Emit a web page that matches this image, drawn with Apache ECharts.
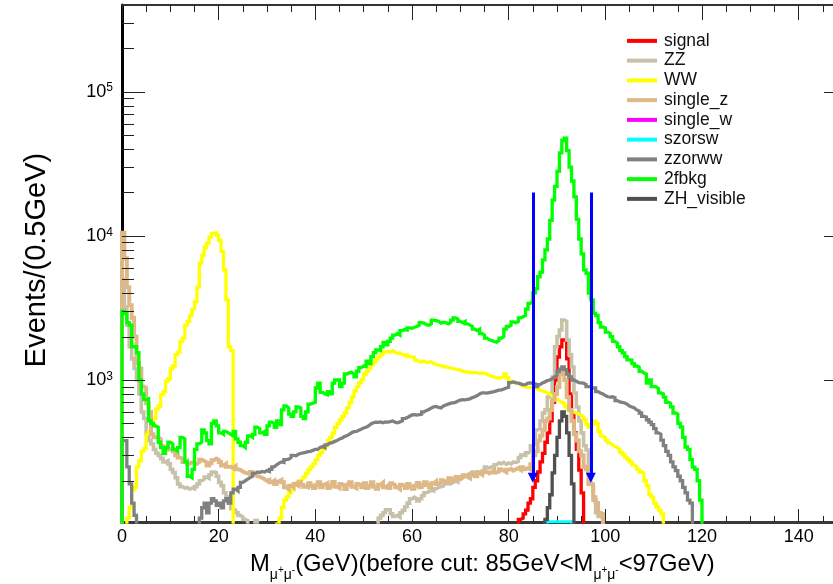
<!DOCTYPE html>
<html>
<head>
<meta charset="utf-8">
<script src="https://cdn.jsdelivr.net/npm/echarts@6/dist/echarts.min.js"></script>
<style>
  html, body { margin: 0; padding: 0; background: #fff; }
  #chart { width: 833px; height: 584px; }
</style>
</head>
<body>
<div id="chart"></div>
<script>
// Dimuon invariant mass, events per 0.5 GeV bin, log scale.
const binWidth = 0.5;
const xRange = [0, 150];
const yRange = [103.5, 399000];
const floorValue = 1; // empty bins sit below the axis minimum
const cutEdges = [85, 97];
const cutArrowSpan = [20000, 210];

const xTickStep = 20;
const yMajorTicks = [1000, 10000, 100000];
const yMinorTicks = [200, 300, 400, 500, 600, 700, 800, 900,
  2000, 3000, 4000, 5000, 6000, 7000, 8000, 9000,
  20000, 30000, 40000, 50000, 60000, 70000, 80000, 90000,
  200000, 300000];

const legendNames = ['signal', 'ZZ', 'WW', 'single_z', 'single_w', 'szorsw', 'zzorww', '2fbkg', 'ZH_visible'];

// signal
const signalFirstBin = 164;
const signalCounts = [108, 110, 118, 125, 140, 150, 180, 200, 230, 270, 310, 370, 430, 520, 700, 1000,
  1444, 1700, 1900, 1850, 1400, 800, 590, 430, 330, 237, 165];

// ZZ
const zzLowFirstBin = 0;
const zzLowCounts = [5000, 3200, 2400, 1700, 1400, 1200, 1000, 800, 600, 540,
  420, 380, 360, 330, 310, 300, 285, 270, 275, 262,
  240, 228, 210, 190, 182, 178, 180, 175, 178, 176,
  182, 190, 200, 205, 212, 208, 220, 230, 228, 215,
  195, 185, 165, 155, 140, 128, 125, 120, 115, 112,
  108, 106, 0, 0, 0, 106];
const zzHighFirstBin = 106;
const zzHighCounts = [110, 115, 120, 126, 126, 118, 113, 115, 112, 120,
  125, 132, 140, 150, 154, 150, 145, 150, 158, 165,
  168, 172, 170, 176, 180, 182, 184, 190, 193, 190,
  195, 200, 196, 205, 213, 215, 220, 225, 230, 228,
  232, 228, 235, 240, 249, 245, 250, 248, 258, 266,
  262, 268, 260, 266, 262, 270, 268, 272, 290, 302,
  300, 312, 320, 350, 360, 450, 460, 520, 590, 620,
  762, 800, 1049, 1700, 2000, 2220, 2600, 2550, 1894, 1500,
  1230, 813, 650, 520, 430, 350, 327, 227, 190, 154,
  120, 113, 110];

// WW
const wwLowFirstBin = 2;
const wwLowCounts = [110, 130, 173, 180, 250, 275, 320, 335,
  420, 440, 510, 540, 630, 660, 790, 830, 980, 1020,
  1200, 1250, 1500, 1560, 1850, 1950, 2400, 2550, 2800, 3100,
  3500, 4400, 6500, 7300, 8300, 8900, 9800, 10400, 10500, 10100,
  9300, 7800, 5800, 3600, 1700, 1600];
const wwHighFirstBin = 64;
const wwHighCounts = [100, 110, 130, 147, 155, 165, 172, 185, 193, 200,
  205, 213, 225, 240, 250, 262, 279, 300, 315, 330,
  350, 380, 400, 430, 470, 500, 530, 560, 590, 640,
  700, 760, 840, 900, 955, 1010, 1100, 1150, 1200, 1280,
  1330, 1400, 1450, 1500, 1560, 1580, 1550, 1600, 1560, 1520,
  1540, 1500, 1480, 1500, 1450, 1440, 1440, 1380, 1340, 1330,
  1350, 1320, 1330, 1340, 1300, 1280, 1270, 1260, 1230, 1240,
  1220, 1210, 1200, 1190, 1180, 1170, 1150, 1140, 1140, 1130,
  1120, 1130, 1120, 1110, 1120, 1110, 1100, 1080, 1060, 1050,
  1040, 1030, 1040, 1050, 1100, 1040, 980, 970, 960, 950,
  930, 910, 895, 890, 890, 880, 870, 860, 850, 840,
  830, 815, 800, 780, 760, 740, 720, 700, 690, 660,
  630, 610, 600, 590, 580, 570, 555, 530, 490, 470,
  490, 520, 500, 440, 410, 400, 380, 366, 355, 345,
  340, 330, 315, 305, 290, 280, 270, 258, 250, 240,
  230, 225, 200, 185, 160, 154, 140, 132, 125, 118];

// single_z
const singleZFirstBin = 0;
const singleZCounts = [10500, 7000, 4400, 3300, 2700, 2000, 1300, 1200, 900, 880,
  690, 600, 420, 400, 400, 390, 350, 340, 345, 330,
  335, 320, 300, 290, 285, 270, 275, 262, 268, 265,
  262, 270, 280, 275, 268, 255, 265, 278, 285, 280,
  270, 255, 262, 250, 250, 245, 252, 240, 238, 232,
  228, 225, 222, 230, 220, 215, 213, 210, 205, 200,
  203, 195, 200, 190, 198, 202, 195, 180, 175, 185,
  180, 190, 185, 195, 188, 182, 180, 192, 185, 178,
  186, 195, 180, 188, 192, 178, 185, 196, 182, 178,
  190, 185, 175, 188, 195, 182, 178, 190, 186, 180,
  192, 178, 185, 195, 182, 176, 188, 194, 180, 185,
  178, 192, 186, 180, 175, 188, 184, 178, 190, 182,
  176, 185, 193, 180, 186, 195, 188, 180, 192, 198,
  190, 195, 202, 196, 200, 208, 198, 205, 212, 205,
  210, 218, 212, 208, 218, 222, 215, 225, 220, 228,
  232, 225, 230, 236, 228, 232, 240, 235, 230, 238,
  242, 235, 240, 245, 238, 248,
  240, 245, 240, 260, 300, 320, 380, 410, 450, 520,
  540, 620, 727, 800, 895, 1100, 1150, 1000, 760, 620,
  520, 420, 380, 320, 300, 250, 240, 190, 185, 147,
  140, 120, 118];

// single_w has no entries in this range
const singleWFirstBin = 0;
const singleWCounts = [];

// szorsw
const szorswFirstBin = 176;
const szorswCounts = [104, 104, 104, 104, 104, 104, 104, 104, 104, 104];

// zzorww
const zzorwwLowFirstBin = 0;
const zzorwwLowCounts = [380, 380, 250, 190, 140, 115];
const zzorwwHighFirstBin = 32;
const zzorwwHighCounts = [110, 130, 140, 120, 140, 150, 145, 135,
  140, 130, 145, 150, 140, 165, 175, 170, 180, 195,
  200, 205, 210, 215, 225, 230, 228, 232, 230, 235,
  232, 240, 250, 258, 265, 270, 268, 280, 282, 290,
  300, 298, 305, 310, 312, 315, 318, 320, 325, 330,
  330, 340, 345, 340, 355, 365, 368, 375, 380, 390,
  395, 405, 410, 420, 430, 438, 440, 448, 455, 465,
  470, 480, 495, 505, 510, 508, 512, 505, 512, 510,
  515, 520, 510, 505, 512, 520, 540, 548, 560, 572,
  575, 570, 575, 580, 600, 615, 625, 640, 650, 655,
  645, 640, 660, 670, 680, 690, 695, 700, 715, 725,
  730, 728, 735, 740, 755, 765, 780, 800, 815, 815,
  810, 818, 825, 830, 840, 850, 855, 865, 880, 890,
  960, 970, 955, 950, 940, 925, 930, 950, 955, 950,
  940, 900, 930, 955, 970, 990, 1000, 1020, 1050, 1080,
  1150, 1190, 1230, 1180, 1100, 1050, 1000, 980, 960, 955,
  950, 930, 900, 895, 880, 880, 830, 813, 800, 780,
  765, 760, 765, 755, 720, 705, 700, 693, 680, 660,
  650, 640, 620, 610, 590, 560, 554, 530, 510, 490,
  460, 430, 420, 383, 350, 320, 300, 270, 250, 235,
  215, 200, 180, 165, 147, 140];

// 2fbkg
const twoFermionFirstBin = 0;
const twoFermionCounts = [3000, 2900, 2500, 2400, 1700, 1700, 1550, 1000, 800, 730,
  740, 520, 500, 480, 470, 370, 340, 310, 340, 370,
  360, 330, 320, 340, 400, 390, 270, 215, 210, 240,
  330, 360, 370, 450, 430, 380, 360, 500, 520, 480,
  430, 420, 440, 430, 420, 410, 440, 390, 370, 350,
  340, 370, 410, 400, 420, 470, 460, 430, 440, 420,
  480, 510, 500, 470, 520, 490, 620, 660, 640, 580,
  560, 600, 650, 640, 560, 540, 600, 680, 690, 700,
  880, 950, 820, 800, 790, 830, 800, 950, 1000, 1000,
  900, 950, 1100, 1120, 1130, 1100, 1050, 1150, 1220, 1250,
  1240, 1350, 1300, 1450, 1550, 1620, 1600, 1700, 1820, 1750,
  1850, 1950, 2050, 2100, 2050, 2200, 2250, 2220, 2300, 2280,
  2320, 2350, 2400, 2500, 2480, 2420, 2400, 2450, 2600, 2580,
  2550, 2480, 2520, 2500, 2450, 2500, 2600, 2700, 2650, 2550,
  2500, 2550, 2450, 2400, 2350, 2250, 2200, 2250, 2100, 2050,
  1950, 1900, 1880, 1850, 1830, 1880, 1950, 2000, 2250, 2350,
  2400, 2530, 2500, 2550, 2700, 2750, 2800, 3100, 3400, 3500,
  4000, 4300, 5200, 5600, 6800, 8000, 9500, 12800, 17700, 22000,
  28000, 37600, 46000, 47500, 39000, 30000, 24000, 18600, 13000, 9500,
  7500, 5800, 5500, 4000, 3600, 2900, 2800, 2500, 2330, 2300,
  2150, 2100, 2000, 1850, 1800, 1700, 1600, 1540, 1450, 1380,
  1376, 1300, 1250, 1230, 1150, 1118, 1100, 950, 1000, 900,
  895, 870, 813, 800, 760, 700, 690, 650, 590, 580,
  500, 472, 400, 343, 330, 280, 249, 240, 200, 147];

// ZH_visible
const zhFirstBin = 175;
const zhCounts = [108, 130, 160, 227, 300, 400, 520, 600, 560, 430, 300, 190];

// Turn binned counts into the outline of a step histogram.
function histogramOutline(segments) {
  const pts = [];
  segments.forEach(function (seg) {
    const first = seg[0], counts = seg[1];
    if (!counts.length) return;
    pts.push([first * binWidth, floorValue]);
    counts.forEach(function (c, i) {
      const lo = (first + i) * binWidth;
      const v = c > 0 ? c : floorValue;
      pts.push([lo, v], [lo + binWidth, v]);
    });
    pts.push([(first + counts.length) * binWidth, floorValue]);
  });
  return pts;
}

const FONT = "'Liberation Sans', Arial, Helvetica, sans-serif";

function histSeries(name, color, width, segments) {
  return {
    name: name,
    type: 'line',
    data: histogramOutline(segments),
    color: color,
    symbol: 'none',
    showSymbol: false,
    clip: true,
    silent: true,
    lineStyle: { color: color, width: width, join: 'miter' },
    emphasis: { disabled: true }
  };
}

function yTickSeries(values, len) {
  return {
    type: 'custom',
    silent: true,
    clip: false,
    z: 5,
    encode: { x: 0, y: 1 },
    data: values.map(function (v) { return [xRange[0], v]; }),
    renderItem: function (params, api) {
      const v = api.value(1);
      const l = api.coord([xRange[0], v]);
      const r = api.coord([xRange[1], v]);
      const y = Math.round(l[1]) + 0.5;
      const style = { stroke: '#222', lineWidth: 1 };
      return {
        type: 'group',
        children: [
          { type: 'line', shape: { x1: l[0], y1: y, x2: l[0] + len, y2: y }, style: style },
          { type: 'line', shape: { x1: r[0] - len, y1: y, x2: r[0], y2: y }, style: style }
        ]
      };
    }
  };
}

const chart = echarts.init(document.getElementById('chart'), null, { renderer: 'canvas' });

const xAxisCommon = {
  type: 'value',
  min: xRange[0],
  max: xRange[1],
  interval: xTickStep,
  splitLine: { show: false }
};

chart.setOption({
  animation: false,
  backgroundColor: '#ffffff',
  grid: { left: 122, top: 5, width: 725, height: 517, containLabel: false, outerBoundsMode: 'none' },
  legend: {
    orient: 'vertical',
    left: 627,
    top: 31,
    padding: 0,
    itemWidth: 30,
    itemHeight: 4,
    itemGap: 0,
    icon: 'rect',
    selectedMode: false,
    textStyle: { fontFamily: FONT, fontSize: 17.5, color: '#111', lineHeight: 19.75, padding: [0, 0, 0, 2] },
    data: legendNames
  },
  xAxis: [
    Object.assign({}, xAxisCommon, {
      position: 'bottom',
      z: 1,
      axisLine: { show: true, onZero: false, lineStyle: { color: '#3a3a3a', width: 3 } },
      axisTick: { show: true, inside: true, length: 13, lineStyle: { color: '#222', width: 1 } },
      minorTick: { show: true, splitNumber: 4, length: 6, lineStyle: { color: '#222', width: 1 } },
      axisLabel: {
        show: true, margin: 6, fontFamily: FONT, fontSize: 18, color: '#000',
        formatter: function (v) { return v <= 140 ? String(v) : ''; }
      }
    }),
    Object.assign({}, xAxisCommon, {
      position: 'top',
      axisLine: { show: true, onZero: false, lineStyle: { color: '#333', width: 2 } },
      axisTick: { show: true, inside: true, length: 15, lineStyle: { color: '#222', width: 1 } },
      minorTick: { show: true, splitNumber: 4, length: 7, lineStyle: { color: '#222', width: 1 } },
      axisLabel: { show: false }
    })
  ],
  yAxis: {
    type: 'log',
    logBase: 10,
    min: yRange[0],
    max: yRange[1],
    axisLine: { show: true, onZero: false, lineStyle: { color: '#000', width: 3 } },
    axisTick: { show: false },
    minorTick: { show: false },
    splitLine: { show: false },
    axisLabel: {
      margin: 9,
      formatter: function (v) {
        const e = Math.log10(v);
        const n = Math.round(e);
        if (Math.abs(e - n) > 1e-6) return '';
        return '{b|10}{e|' + n + '}';
      },
      rich: {
        b: { fontFamily: FONT, fontSize: 18, color: '#000' },
        e: { fontFamily: FONT, fontSize: 12, color: '#000', padding: [0, 0, 7, 0] }
      }
    }
  },
  graphic: [
    {
      type: 'text',
      x: 37,
      y: 260,
      rotation: Math.PI / 2,
      silent: true,
      style: {
        text: 'Events/(0.5GeV)',
        font: '29px ' + FONT,
        fill: '#000',
        align: 'center',
        verticalAlign: 'middle'
      }
    },
    {
      type: 'text',
      x: 250,
      y: 564,
      silent: true,
      style: {
        text: '{t|M}{s|μ}{u|+}{s|μ}{u|-}{t|(GeV)(before cut: 85GeV<M}{s|μ}{u|+}{s|μ}{u|-}{t|<97GeV)}',
        align: 'left',
        verticalAlign: 'middle',
        rich: {
          t: { fontFamily: FONT, fontSize: 23.8, fill: '#000' },
          s: { fontFamily: FONT, fontSize: 14, fill: '#000', padding: [22, 0, 0, 0] },
          u: { fontFamily: FONT, fontSize: 10, fill: '#000', padding: [12, 0, 0, 0] }
        }
      }
    }
  ],
  series: [
    histSeries('signal', '#ff0000', 3.3, [[signalFirstBin, signalCounts]]),
    histSeries('ZZ', '#c6c1a8', 3.6, [[zzLowFirstBin, zzLowCounts], [zzHighFirstBin, zzHighCounts]]),
    histSeries('WW', '#ffff00', 3.3, [[wwLowFirstBin, wwLowCounts], [wwHighFirstBin, wwHighCounts]]),
    histSeries('single_z', '#deb887', 4, [[singleZFirstBin, singleZCounts]]),
    histSeries('single_w', '#ff00ff', 3, [[singleWFirstBin, singleWCounts]]),
    histSeries('szorsw', '#00ffff', 3, [[szorswFirstBin, szorswCounts]]),
    histSeries('zzorww', '#808080', 3.3, [[zzorwwLowFirstBin, zzorwwLowCounts], [zzorwwHighFirstBin, zzorwwHighCounts]]),
    histSeries('2fbkg', '#00ff00', 3.3, [[twoFermionFirstBin, twoFermionCounts]]),
    histSeries('ZH_visible', '#505050', 3.3, [[zhFirstBin, zhCounts]]),
    {
      name: 'cut',
      type: 'line',
      data: [],
      silent: true,
      z: 6,
      markLine: {
        silent: true,
        animation: false,
        symbol: ['none', 'triangle'],
        symbolSize: [10, 10],
        label: { show: false },
        lineStyle: { color: '#0000ff', width: 3, type: 'solid' },
        emphasis: { disabled: true },
        data: cutEdges.map(function (c) {
          return [{ coord: [c, cutArrowSpan[0]] }, { coord: [c, cutArrowSpan[1]] }];
        })
      }
    },
    yTickSeries(yMajorTicks, 23),
    yTickSeries(yMinorTicks, 12)
  ]
});
</script>
</body>
</html>
